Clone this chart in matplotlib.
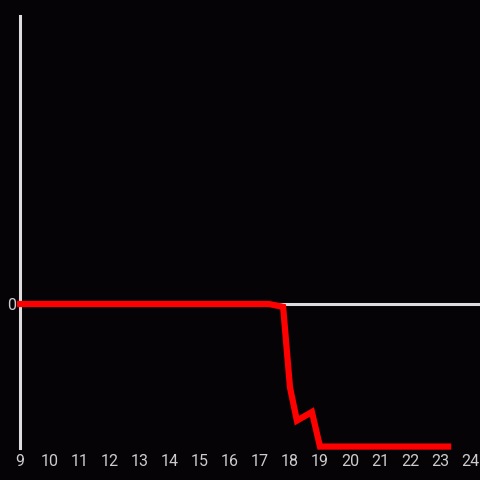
import matplotlib
matplotlib.use("Agg")
import matplotlib.pyplot as plt

hours = [9, 17.3, 17.77, 18.0, 18.23, 18.73, 19.0, 23.27]
values = [0, 0, -0.02, -0.58, -0.81, -0.75, -0.99, -0.99]
xticks = list(range(9, 25))

plt.rcParams['font.family'] = ['Roboto', 'DejaVu Sans']

bg = "#050306"
fig = plt.figure(figsize=(4.8, 4.8), dpi=100, facecolor=bg)
ax = fig.add_axes([20/480, 32/480, 460/480, 432/480], facecolor=bg)

ax.axhline(0, color="#dddddd", lw=2.2, zorder=1)
ax.plot(hours, values, color="#ff0000", lw=4.5, zorder=3, solid_joinstyle="miter", clip_on=False)

ax.set_xlim(9, 9 + 460/30)
ax.set_ylim(-1.0, 2.0)
ax.set_xticks(xticks)
ax.set_xticklabels([str(t) for t in xticks])
ax.set_yticks([0])
ax.set_yticklabels(["0"])
ax.tick_params(axis="both", length=0, colors="#cccccc", labelsize=11.5)
ax.tick_params(axis="x", pad=4)
ax.tick_params(axis="y", pad=3)
for s in ["top", "right", "bottom"]:
    ax.spines[s].set_visible(False)
ax.spines["left"].set_color("#dddddd")
ax.spines["left"].set_linewidth(2.2)

fig.savefig("out.png", dpi=100, facecolor=bg)
